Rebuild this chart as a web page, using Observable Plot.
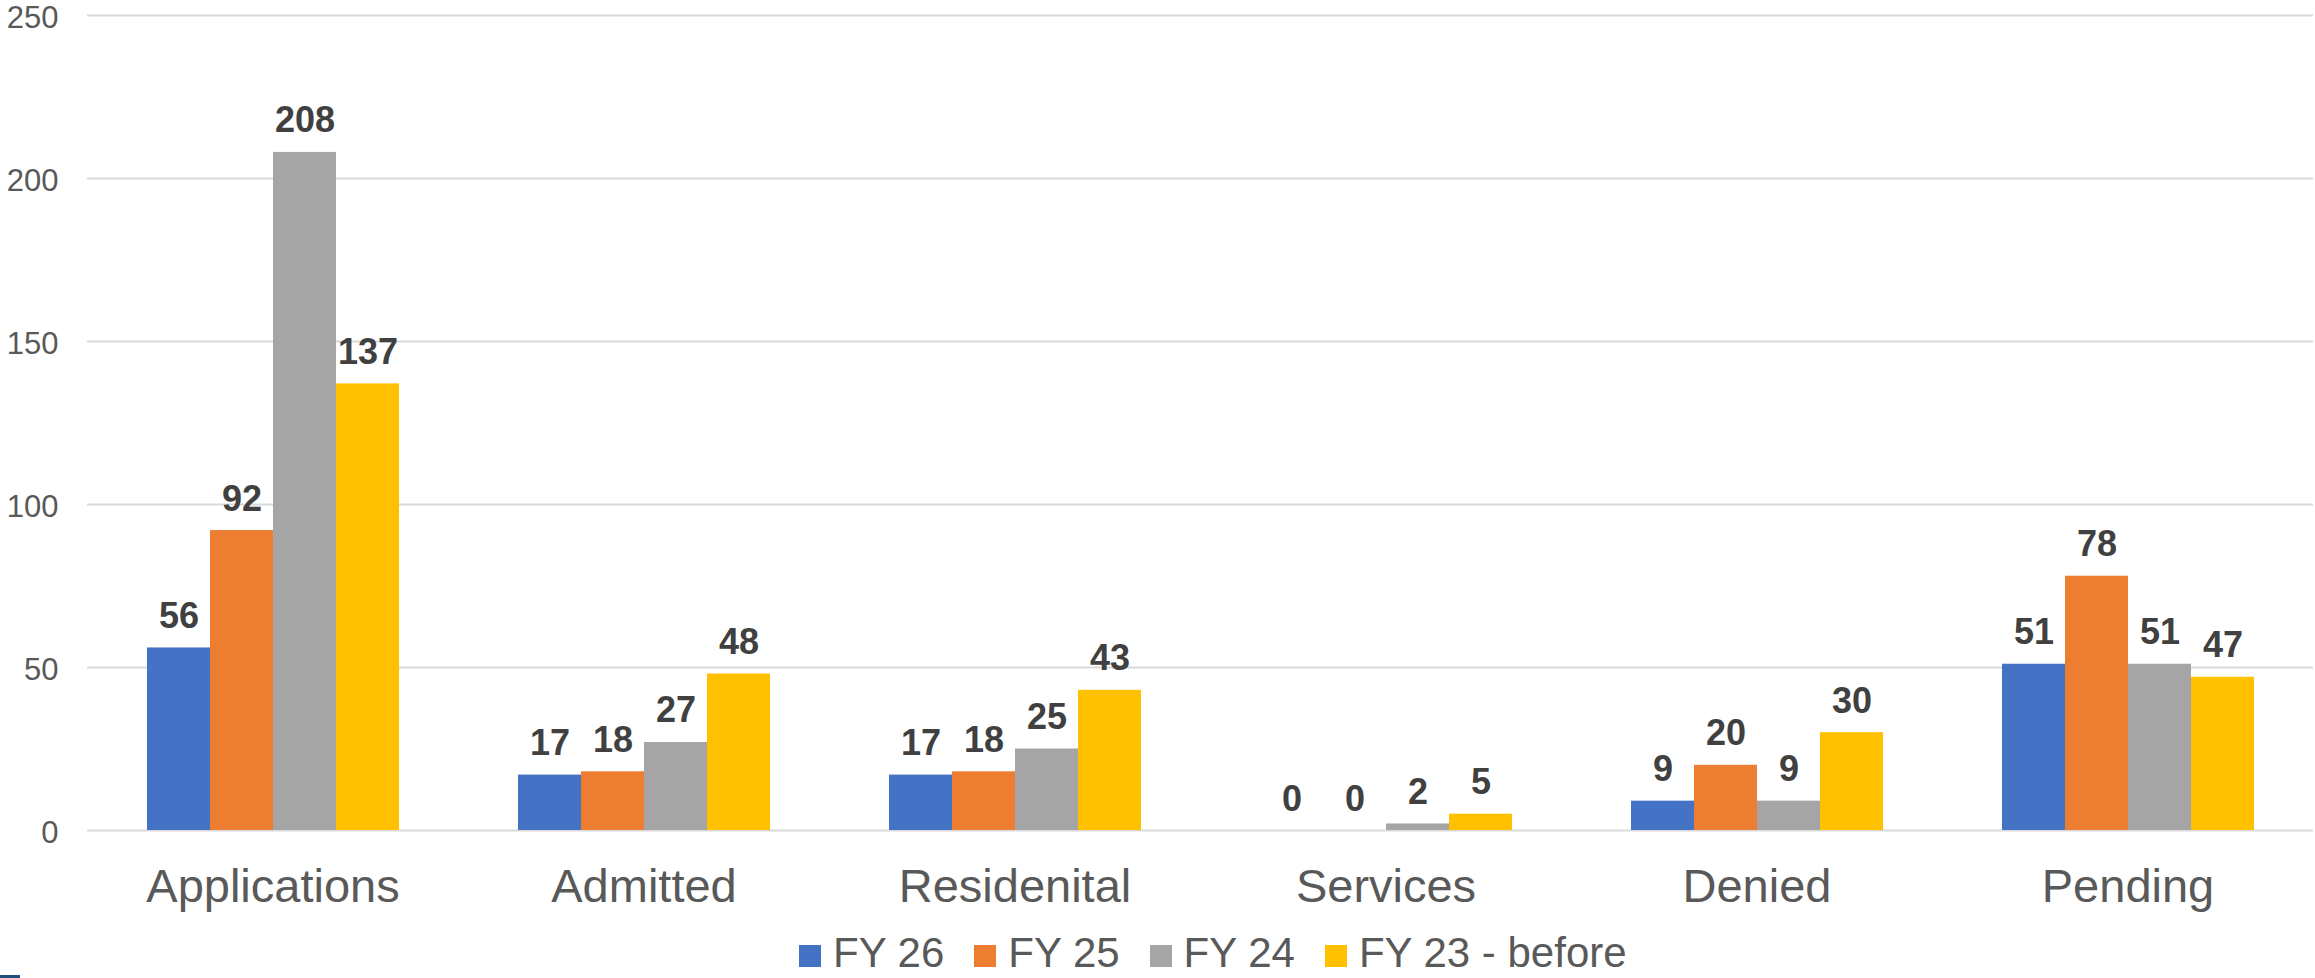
<!DOCTYPE html>
<html>
<head>
<meta charset="utf-8">
<script src="https://cdn.jsdelivr.net/npm/d3@7"></script>
<script src="https://cdn.jsdelivr.net/npm/@observablehq/plot@0.6"></script>
<style>
  html, body { margin: 0; padding: 0; background: #fff; }
  #wrap { position: relative; width: 2315px; height: 978px; overflow: hidden; font-family: "Liberation Sans", Arial, sans-serif; }
  #chart { position: absolute; left: 0; top: 0; }
  #legend { position: absolute; left: 799px; top: 934px; display: flex; align-items: center; white-space: nowrap; }
  #legend .item { display: flex; align-items: center; margin-right: 30px; }
  #legend .sw { width: 22px; height: 22px; margin-right: 12px; position: relative; top: 3px; }
  #legend .lab { display: block; font-size: 42px; line-height: 38px; height: 38px; color: #595959; }
  #corner { position: absolute; left: 0; top: 975px; width: 20px; height: 3px; background: #1f4e79; }
</style>
</head>
<body>
<div id="wrap"><div id="chart"></div><div id="legend"></div><div id="corner"></div></div>
<script>
const categories = ["Applications", "Admitted", "Residenital", "Services", "Denied", "Pending"];
const series = ["FY 26", "FY 25", "FY 24", "FY 23 - before"];
const fy26 = [56, 17, 17, 0, 9, 51];
const fy25 = [92, 18, 18, 0, 20, 78];
const fy24 = [208, 27, 25, 2, 9, 51];
const fy23 = [137, 48, 43, 5, 30, 47];
const colors = ["#4472C4", "#ED7D31", "#A5A5A5", "#FFC000"];
const yTicks = [0, 50, 100, 150, 200, 250];

const seriesValues = [fy26, fy25, fy24, fy23];
const rows = [];
categories.forEach((c, i) => {
  series.forEach((s, j) => rows.push({category: c, series: s, value: seriesValues[j][i]}));
});

const H = 925;
const chart = Plot.plot({
  width: 2315,
  height: H,
  marginLeft: 85,
  marginRight: 0,
  marginTop: 15,
  marginBottom: H - 830,
  style: {fontFamily: '"Liberation Sans", Arial, sans-serif', background: "white", overflow: "visible"},
  fx: {domain: categories, paddingInner: 0, paddingOuter: 0, label: null, axis: null},
  x: {domain: series, paddingInner: 0, paddingOuter: 0.904, axis: null},
  y: {domain: [0, 250], label: null, axis: null},
  color: {domain: series, range: colors},
  marks: [
    Plot.gridY(yTicks, {stroke: "#d9d9d9", strokeOpacity: 1, strokeWidth: 2}),
    Plot.axisY(yTicks, {tickSize: 0, tickPadding: 29, fontSize: 31, dy: 3, fill: "#595959", label: null}),
    Plot.barY(rows, {fx: "category", x: "series", y: "value", fill: "series"}),
    Plot.text(rows, {fx: "category", x: "series", y: "value", text: d => String(d.value), lineAnchor: "bottom", dy: -20, fontSize: 36, fontWeight: "bold", fill: "#404040"}),
    Plot.axisFx({anchor: "bottom", tickSize: 0, tickPadding: 38, fontSize: 47, fill: "#595959", label: null})
  ]
});
document.getElementById("chart").appendChild(chart);

const legend = document.getElementById("legend");
series.forEach((s, j) => {
  const item = document.createElement("div");
  item.className = "item";
  const sw = document.createElement("span");
  sw.className = "sw";
  sw.style.background = colors[j];
  const lab = document.createElement("span");
  lab.className = "lab";
  lab.textContent = s;
  item.appendChild(sw);
  item.appendChild(lab);
  legend.appendChild(item);
});
</script>
</body>
</html>
